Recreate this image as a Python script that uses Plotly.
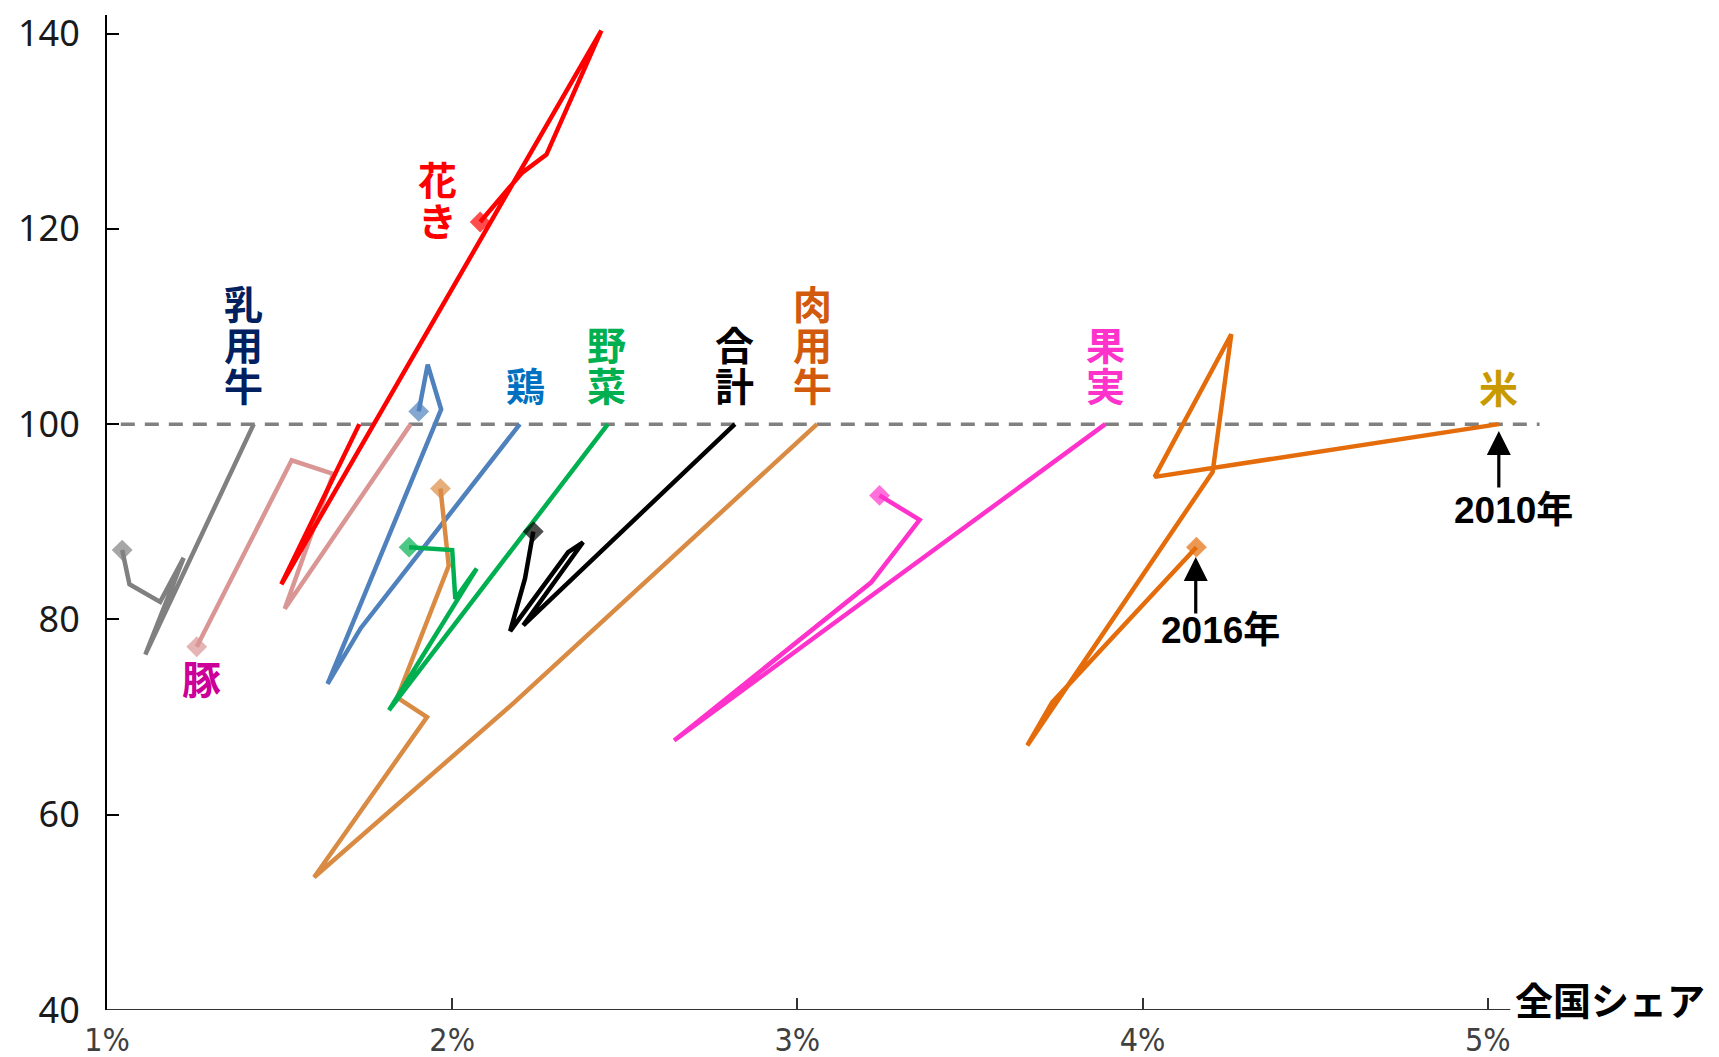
import plotly.graph_objects as go

# ---- data (national share %, index 2010=100), points in year order 2010 -> 2016 ----
dairy_x = [1.425, 1.111, 1.222, 1.154, 1.065, 1.044]
dairy_y = [100, 76.4, 86.3, 81.8, 83.6, 87.1]

pork_x = [1.88, 1.515, 1.655, 1.535, 1.26]
pork_y = [100, 81.1, 94.9, 96.3, 77.2]

flower_x = [1.731, 1.505, 2.432, 2.273, 2.201, 2.081]
flower_y = [100, 83.6, 140.3, 127.6, 125.7, 120.7]

chicken_x = [2.196, 1.735, 1.639, 1.968, 1.929, 1.903]
chicken_y = [100, 79.1, 73.4, 101.5, 106.1, 101.3]

beef_x = [3.057, 2.18, 1.60, 1.927, 1.841, 1.990, 1.966]
beef_y = [100, 71.5, 53.6, 70.0, 72.0, 85.5, 93.4]

veg_x = [2.451, 1.817, 2.071, 2.009, 2.000, 1.875]
veg_y = [100, 70.7, 85.2, 82.1, 87.1, 87.4]

total_x = [2.819, 2.206, 2.379, 2.336, 2.168, 2.211, 2.235]
total_y = [100, 79.4, 87.9, 86.9, 78.8, 84.2, 89.0]

fruit_x = [3.892, 2.643, 3.214, 3.354, 3.238]
fruit_y = [100, 67.6, 83.8, 90.2, 92.7]

rice_x = [5.032, 4.035, 4.257, 4.203, 3.666, 3.738, 4.156]
rice_y = [100, 94.6, 109.2, 95.1, 67.1, 71.5, 87.4]

series_names = ["乳用牛", "豚", "花き", "鶏", "肉用牛", "野菜", "合計", "果実", "米"]
series_x = [dairy_x, pork_x, flower_x, chicken_x, beef_x, veg_x, total_x, fruit_x, rice_x]
series_y = [dairy_y, pork_y, flower_y, chicken_y, beef_y, veg_y, total_y, fruit_y, rice_y]
line_colors = ["#808080", "#D99694", "#FF0000", "#4F81BD", "#DA8B43",
               "#00B050", "#000000", "#FF33CC", "#E46C0A"]

# label positions (top character centre) and colours
label_x = [1.394, 1.273, 1.957, 2.211, 3.044, 2.448, 2.819, 3.892, 5.032]
label_y = [112.5, 74.1, 125.2, 104.1, 112.5, 108.3, 108.3, 108.3, 103.9]
label_colors = ["#002060", "#CC0099", "#FF0000", "#0070C0", "#D25A0C",
                "#00B050", "#000000", "#FF33CC", "#C89A00"]

y_ticks = [40, 60, 80, 100, 120, 140]
x_ticks = [1, 2, 3, 4, 5]
x_ticktext = ["1%", "2%", "3%", "4%", "5%"]

fig = go.Figure()

for name, xs, ys, col in zip(series_names, series_x, series_y, line_colors):
    sizes = [0] * (len(xs) - 1) + [16]
    fig.add_trace(go.Scatter(
        x=xs, y=ys, mode="lines+markers", name=name,
        line=dict(color=col, width=4.5),
        marker=dict(symbol="diamond", size=sizes, color=col, line=dict(width=0)),
        showlegend=False, hoverinfo="skip", cliponaxis=False,
    ))

shapes = [
    # reference line 100
    dict(type="line", xref="x", yref="y", x0=1.04, x1=5.15, y0=100, y1=100,
         line=dict(color="#808080", width=3.5, dash="14px,10px"), layer="below"),
    # x axis line
    dict(type="line", xref="x", yref="y", x0=1, x1=5.065, y0=40, y1=40,
         line=dict(color="#333333", width=2)),
]

annotations = []
cjk = "Noto Sans CJK JP"
for txt, lx, ly, col in zip(series_names, label_x, label_y, label_colors):
    for i, ch in enumerate(txt):
        annotations.append(dict(
            x=lx, y=ly, xref="x", yref="y", text="<b>%s</b>" % ch,
            showarrow=False, yshift=-41 * i, xanchor="center", yanchor="middle",
            font=dict(family=cjk, size=39, color=col)))

# year arrows
for (hx, hy, ty) in [(5.032, 99.3, 93.3), (4.154, 86.4, 80.4)]:
    annotations.append(dict(
        x=hx, y=hy, ax=hx, ay=ty, xref="x", yref="y", axref="x", ayref="y",
        text=" ", font=dict(size=1), showarrow=True, arrowhead=2, arrowsize=1.5,
        arrowwidth=3.2, arrowcolor="#000000", standoff=0, startstandoff=0))

for txt, tx, ty in [("2010年", 5.074, 91.2), ("2016年", 4.225, 78.9)]:
    annotations.append(dict(
        x=tx, y=ty, xref="x", yref="y", text="<b>%s</b>" % txt, showarrow=False,
        xanchor="center", yanchor="middle",
        font=dict(family="Liberation Sans Narrow, Liberation Sans, " + cjk, size=37, color="#000000")))

annotations.append(dict(
    x=1.047, y=41.2, xref="paper", yref="y", text="<b>全国シェア</b>", showarrow=False,
    xanchor="center", yanchor="middle",
    font=dict(family=cjk, size=38, color="#000000")))

fig.update_layout(
    width=1719, height=1057,
    margin=dict(l=99, r=184, t=0, b=55, pad=0),
    paper_bgcolor="white", plot_bgcolor="white",
    shapes=shapes, annotations=annotations,
    xaxis=dict(range=[1, 5.16], showgrid=False, zeroline=False, showline=False,
               tickvals=x_ticks, ticktext=x_ticktext, ticks="inside", ticklen=12,
               tickwidth=2, tickcolor="#333333", ticklabelstandoff=8,
               ticklabeloverflow="allow",
               tickfont=dict(family="Liberation Sans Narrow, DejaVu Sans Condensed, Liberation Sans",
                             size=32, color="#404040")),
    yaxis=dict(range=[40, 141.9], showgrid=False, zeroline=False, showline=True,
               linecolor="#000000", linewidth=2, tickvals=y_ticks, ticks="inside",
               ticklen=12, tickwidth=2, tickcolor="#000000", ticklabelstandoff=18,
               ticklabeloverflow="allow",
               tickfont=dict(family="Noto Sans", size=36, color="#1a1a1a")),
)

fig.write_html("out.html")
